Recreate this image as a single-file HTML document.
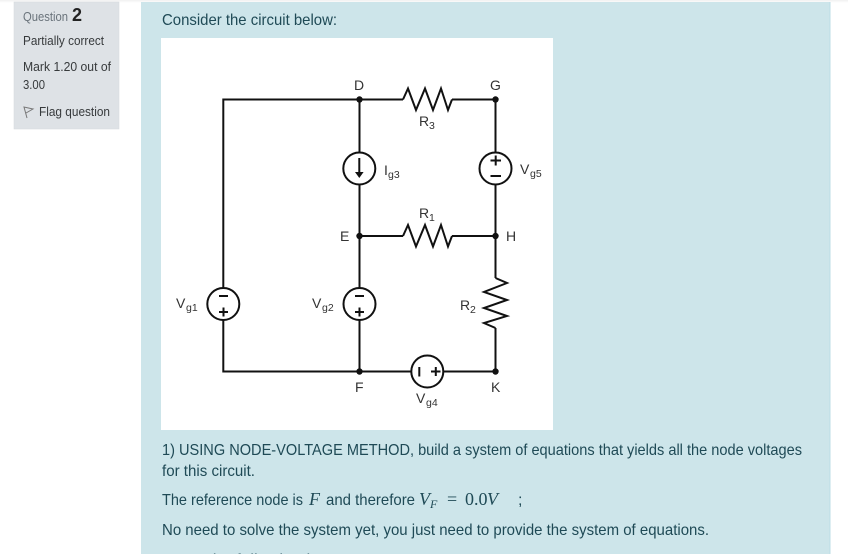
<!DOCTYPE html>
<html>
<head>
<meta charset="utf-8">
<style>
html,body{margin:0;padding:0;background:#fff;width:848px;height:554px;overflow:hidden}
svg{display:block}
text{font-family:"Liberation Sans",sans-serif}
.t{font-size:16px;fill:#1f4a56}
.s{font-size:13px;fill:#373a3c}
.c{font-size:14px;fill:#333}
.sub{font-size:10.5px;fill:#333}
.w{fill:none;stroke:#111;stroke-width:2}
.m{font-family:"Liberation Serif",serif;font-size:18px;fill:#1f4a56}
</style>
</head>
<body>
<svg width="848" height="554" viewBox="0 0 848 554" xmlns="http://www.w3.org/2000/svg">
<defs>
<linearGradient id="g" x1="0" y1="0" x2="0" y2="1"><stop offset="0" stop-color="#f0f0f0"/><stop offset="1" stop-color="#fff"/></linearGradient>
</defs>
<rect width="848" height="554" fill="#fff"/>
<rect x="0" y="0" width="848" height="3" fill="url(#g)"/>
<!-- left info -->
<rect x="14" y="2" width="105" height="127" fill="#dee2e6" stroke="#d4d8dc" stroke-width="0.5"/>
<text x="23" y="21" class="s" style="fill:#6a737b" textLength="45" lengthAdjust="spacingAndGlyphs">Question</text>
<text x="72" y="21" style="font-size:18px;font-weight:bold;fill:#222">2</text>
<text x="23" y="45" class="s" textLength="81" lengthAdjust="spacingAndGlyphs">Partially correct</text>
<text x="23" y="71" class="s" textLength="88" lengthAdjust="spacingAndGlyphs">Mark 1.20 out of</text>
<text x="23" y="89" class="s" textLength="22" lengthAdjust="spacingAndGlyphs">3.00</text>
<path d="M27 118L24 107L33 109L26 113" fill="none" stroke="#777" stroke-width="1"/>
<text x="39" y="116" class="s" textLength="71" lengthAdjust="spacingAndGlyphs">Flag question</text>
<!-- main panel -->
<rect x="141" y="2" width="689" height="552" fill="#cde5ea"/>
<rect x="829.500" y="2" width="1" height="552" fill="#bcdde5"/>
<text x="162" y="25" class="t" textLength="175" lengthAdjust="spacingAndGlyphs">Consider the circuit below:</text>
<rect x="161" y="38" width="392" height="392" fill="#fff"/>
<!-- wires -->
<path class="w" d="M223.300 288V99.500H403M359.500 99.500V153M359.500 185V288M359.500 320V371.500M223.300 320V371.500H411M443 371.500H495.500V328M495.500 278V236M495.500 99.500V152M495.500 184V236M452 99.500H495.500M359.500 236H403M452 236H495.500"/>
<!-- resistors -->
<path class="w" d="M403 99.500L408 88.500L416 110L425 88.500L433 110L441 88.500L448 110L452 99.500"/>
<path class="w" d="M403 236L408 225L416 246.500L425 225L433 246.500L441 225L448 246.500L452 236"/>
<path class="w" d="M495.500 278L507 283L484 292L507 300L484 308L507 316L484 323L495.500 328"/>
<!-- junction dots -->
<g fill="#111">
<circle cx="359.500" cy="99.500" r="3.200"/><circle cx="495.500" cy="99.500" r="3.200"/>
<circle cx="359.500" cy="236" r="3.200"/><circle cx="495.500" cy="236" r="3.200"/>
<circle cx="359.500" cy="371.500" r="3.200"/><circle cx="495.500" cy="371.500" r="3.200"/>
</g>
<!-- sources -->
<g fill="#fff" stroke="#111" stroke-width="2">
<circle cx="359.300" cy="168.500" r="16"/>
<circle cx="495.500" cy="168.500" r="16"/>
<circle cx="223.300" cy="304" r="16"/>
<circle cx="359.500" cy="304" r="16"/>
<circle cx="427.300" cy="371.500" r="16"/>
</g>
<path d="M359.300 158V173" stroke="#111" stroke-width="2"/>
<path d="M355 172H363.600L359.300 178Z" fill="#111"/>
<g stroke="#111" stroke-width="2">
<path d="M490.500 160.500H501M495.700 155.500V165.500M490.500 176H501"/>
<path d="M219 296H228M219 312H228M223.500 307.500V316.500"/>
<path d="M355 296H364M355 312H364M359.500 307.500V316.500"/>
<path d="M419.300 367V376.500M431 371.500H440.500M435.800 367V376"/>
</g>
<!-- labels -->
<text x="354" y="90" class="c">D</text>
<text x="490" y="90" class="c">G</text>
<text x="419" y="126" class="c">R</text><text x="429" y="129" class="sub">3</text>
<text x="384" y="175" class="c">I</text><text x="388" y="178" class="sub">g3</text>
<text x="520" y="174" class="c">V</text><text x="530" y="177" class="sub">g5</text>
<text x="419" y="218" class="c">R</text><text x="429" y="221" class="sub">1</text>
<text x="340" y="241" class="c">E</text>
<text x="506" y="241" class="c">H</text>
<text x="176" y="308" class="c">V</text><text x="186" y="311" class="sub">g1</text>
<text x="312" y="308" class="c">V</text><text x="322" y="311" class="sub">g2</text>
<text x="460" y="310" class="c">R</text><text x="470" y="313" class="sub">2</text>
<text x="355" y="392" class="c">F</text>
<text x="491" y="392" class="c">K</text>
<text x="416" y="403" class="c">V</text><text x="426" y="406" class="sub">g4</text>
<!-- body text -->
<text x="162" y="455" class="t" textLength="640" lengthAdjust="spacingAndGlyphs">1) USING NODE-VOLTAGE METHOD, build a system of equations that yields all the node voltages</text>
<text x="162" y="476" class="t" textLength="93" lengthAdjust="spacingAndGlyphs">for this circuit.</text>
<text x="162" y="505" class="t" textLength="141" lengthAdjust="spacingAndGlyphs">The reference node is</text>
<text x="309" y="505" class="m" style="font-style:italic">F</text>
<text x="326" y="505" class="t" textLength="89" lengthAdjust="spacingAndGlyphs">and therefore</text>
<text x="419" y="505" class="m" style="font-style:italic">V</text>
<text x="430" y="508" class="m" style="font-style:italic;font-size:12px">F</text>
<text x="447" y="505" class="m">=</text>
<text x="465" y="505" class="m">0.0</text>
<text x="487" y="505" class="m" style="font-style:italic">V</text>
<text x="518" y="505" class="t">;</text>
<text x="162" y="535" class="t" textLength="547" lengthAdjust="spacingAndGlyphs">No need to solve the system yet, you just need to provide the system of equations.</text>
<text x="208" y="565" class="t" textLength="107" lengthAdjust="spacingAndGlyphs">the following it</text>
</svg>
</body>
</html>
